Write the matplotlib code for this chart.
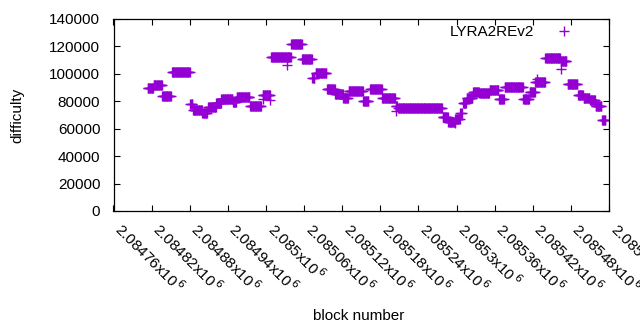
import numpy as np
import matplotlib
matplotlib.use("Agg")
import matplotlib.pyplot as plt

plt.rcParams['font.family'] = ['Liberation Sans', 'DejaVu Sans']

# Difficulty held constant over runs of consecutive blocks
seg_start = [2084814, 2084823, 2084837, 2084852, 2084881, 2084885, 2084900, 2084909,
             2084922, 2084930, 2084948, 2084954, 2084975, 2084995, 2085008, 2085040,
             2085057, 2085073, 2085078, 2085096, 2085109, 2085122, 2085130, 2085153,
             2085164, 2085183, 2085204, 2085208, 2085278, 2085287, 2085298, 2085306,
             2085310, 2085316, 2085326, 2085336, 2085352, 2085367, 2085376, 2085405,
             2085415, 2085424, 2085440, 2085464, 2085475, 2085491, 2085500, 2085510,
             2085519, 2085529]
seg_end = [2084822, 2084836, 2084850, 2084880, 2084884, 2084899, 2084907, 2084921,
           2084929, 2084947, 2084953, 2084974, 2084992, 2085006, 2085039, 2085056,
           2085072, 2085076, 2085095, 2085108, 2085121, 2085129, 2085152, 2085161,
           2085182, 2085203, 2085206, 2085277, 2085286, 2085297, 2085305, 2085308,
           2085315, 2085325, 2085335, 2085351, 2085366, 2085374, 2085404, 2085414,
           2085423, 2085439, 2085463, 2085473, 2085490, 2085499, 2085509, 2085518,
           2085528, 2085534]
seg_diff = [89500, 91700, 83900, 101100, 78000, 74000, 71400, 75800,
            78700, 81600, 79500, 82900, 76300, 84300, 112000, 121500,
            110600, 96800, 100400, 88700, 85500, 82200, 87700, 80500,
            88700, 82200, 76500, 74900, 68600, 65200, 66900, 71700,
            78700, 82700, 86800, 86000, 88200, 81900, 90200, 81700,
            86800, 93800, 111800, 109100, 92600, 84400, 82700, 80700,
            76300, 66000]

# Isolated blocks off their run's level
extra_blocks = [2084995, 2085006, 2085033, 2085205, 2085297, 2085426, 2085464]
extra_diff = [81500, 81000, 106500, 73200, 63900, 96500, 103300]

xtick_vals = [2084760, 2084820, 2084880, 2084940, 2085000, 2085060, 2085120,
              2085180, 2085240, 2085300, 2085360, 2085420, 2085480, 2085540]
xtick_labels = ["2.08476x10$^{\\,6}$", "2.08482x10$^{\\,6}$", "2.08488x10$^{\\,6}$",
                "2.08494x10$^{\\,6}$", "2.085x10$^{\\,6}$", "2.08506x10$^{\\,6}$",
                "2.08512x10$^{\\,6}$", "2.08518x10$^{\\,6}$", "2.08524x10$^{\\,6}$",
                "2.0853x10$^{\\,6}$", "2.08536x10$^{\\,6}$", "2.08542x10$^{\\,6}$",
                "2.08548x10$^{\\,6}$", "2.08554x10$^{\\,6}$"]
ytick_vals = [0, 20000, 40000, 60000, 80000, 100000, 120000, 140000]

xs, ys = [], []
for s, e, d in zip(seg_start, seg_end, seg_diff):
    b = np.arange(s, e + 1)
    xs.append(b)
    ys.append(np.full(b.shape, d))
xs.append(np.array(extra_blocks))
ys.append(np.array(extra_diff))
x = np.concatenate(xs)
y = np.concatenate(ys)

fig = plt.figure(figsize=(6.4, 3.3), dpi=100)
ax = fig.add_axes([113.5/640, 1-211/330, (609-113.5)/640, (211-19)/330])

color = '#9400D3'
ax.plot(x, y, linestyle='none', marker='+', markersize=6.5, markeredgewidth=1.0,
        color=color, label='LYRA2REv2')

ax.set_xlim(2084760, 2085540)
ax.set_ylim(0, 140000)
ax.set_yticks(ytick_vals)
ax.set_yticklabels([str(v) for v in ytick_vals])
ax.set_xticks(xtick_vals)
ax.set_xticklabels(xtick_labels, rotation=-45, ha='left', va='baseline',
                   rotation_mode='anchor')

ax.tick_params(direction='in', length=4, width=0.8, top=True, right=True,
               labelsize=11, color='black')
ax.tick_params(axis='y', pad=9.5)
ax.tick_params(axis='x', pad=14.4)
for sp in ax.spines.values():
    sp.set_linewidth(0.9)

ax.set_ylabel('difficulty', fontsize=11, labelpad=18)
ax.set_xlabel('block number', fontsize=11)
ax.xaxis.set_label_coords((359-113.5)/(609-113.5), -(316-211)/(211-19), transform=ax.transAxes)
ax.xaxis.label.set_va('center')

leg = ax.legend(loc='center right', bbox_to_anchor=((575-113.5)/(609-113.5), 1-(32-19)/(211-19)),
                frameon=False, markerfirst=False, fontsize=11, handlelength=1.5,
                handletextpad=1.2, borderaxespad=0, borderpad=0)

fig.savefig('out.png', dpi=100)
